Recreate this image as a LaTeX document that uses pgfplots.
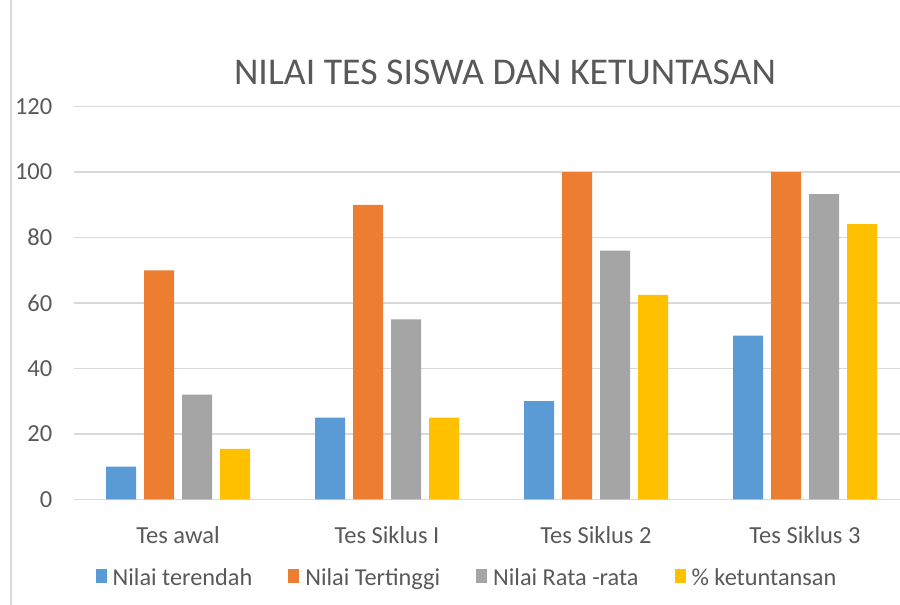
\documentclass[border=0pt]{standalone}
\usepackage{pgfplots}
\pgfplotsset{compat=1.18}
\usepackage{fontspec}
\setmainfont{Carlito}
\definecolor{cblue}{HTML}{5B9BD5}
\definecolor{corange}{HTML}{ED7D31}
\definecolor{cgray}{HTML}{A5A5A5}
\definecolor{cyellow}{HTML}{FFC000}
\definecolor{ctext}{HTML}{595959}
\definecolor{cgrid}{HTML}{D9D9D9}
\begin{document}
\begin{tikzpicture}[x=1pt,y=1pt]
\path[use as bounding box] (0,0) rectangle (900,605);
\draw[cgrid, line width=1.5pt] (11,0) -- (11,605);
\node[text=ctext, inner sep=0pt, font=\fontsize{37.8}{45}\selectfont] at (505,533) {NILAI TES SISWA DAN KETUNTASAN};
\begin{axis}[
  at={(73.5pt,105.7pt)}, anchor=south west, scale only axis,
  width=836pt, height=392.6pt,
  ymin=0, ymax=120, ytick={0,20,...,120},
  xmin=-0.5, xmax=3.5, xtick={0,1,2,3},
  xticklabels={Tes awal, Tes Siklus I, Tes Siklus 2, Tes Siklus 3},
  ybar=8pt, bar width=30pt,
  separate axis lines,
  x axis line style={draw=cgrid, line width=1.5pt},
  y axis line style={draw=none},
  ymajorgrids, grid style={cgrid, line width=1.5pt},
  major tick length=0pt,
  /pgf/number format/assume math mode=true,
  tick label style={font=\fontsize{24.5}{29}\selectfont, text=ctext},
  y tick label style={inner sep=0pt, anchor=east, xshift=-21pt},
  x tick label style={inner sep=0pt, anchor=north, yshift=-27pt},
  legend columns=4,
  legend style={draw=none, fill=none, at={(0.4707,-0.2005)}, anchor=center,
    font=\fontsize{24.3}{29}\selectfont, text=ctext,
    /tikz/every odd column/.append style={column sep=4pt},
    /tikz/every even column/.append style={column sep=34pt}},
  legend image code/.code={\fill[#1] (0pt,-5pt) rectangle (11pt,9pt);},
]
\addplot[fill=cblue, draw=none] coordinates {(0,10) (1,25) (2,30) (3,50)};
\addplot[fill=corange, draw=none] coordinates {(0,70) (1,90) (2,100) (3,100)};
\addplot[fill=cgray, draw=none] coordinates {(0,32) (1,55) (2,76) (3,93.3)};
\addplot[fill=cyellow, draw=none] coordinates {(0,15.4) (1,25) (2,62.5) (3,84.1)};
\legend{Nilai terendah, Nilai Tertinggi, Nilai Rata -rata, \% ketuntansan}
\end{axis}
\end{tikzpicture}
\end{document}
